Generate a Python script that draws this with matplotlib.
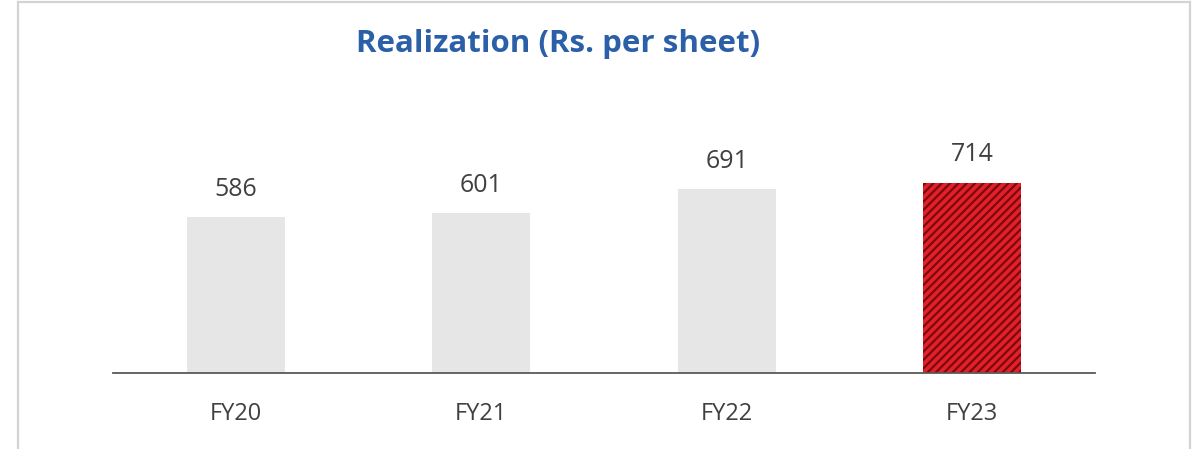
import matplotlib.pyplot as plt
from matplotlib.lines import Line2D

plt.rcParams['font.family'] = ['Open Sans', 'DejaVu Sans']
plt.rcParams['hatch.linewidth'] = 1.6
plt.rcParams['hatch.color'] = '#7a0a10'

years = ['FY20', 'FY21', 'FY22', 'FY23']
realization = [586, 601, 691, 714]

fig = plt.figure(figsize=(12.03, 4.49), dpi=100)
ax = fig.add_axes([0.0939, 0.1693, 0.8163, 0.5935])

x = range(len(years))
bars = ax.bar(x, realization, width=0.40, color='#e6e6e6')
bars[-1].set_facecolor('#e3202a')
bars[-1].set_hatch('////')
bars[-1].set_edgecolor('#7a0a10')
bars[-1].set_linewidth(0)

for b, v in zip(bars, realization):
    ax.annotate(str(v), (b.get_x() + b.get_width() / 2, v), xytext=(0, 11),
                textcoords='offset points', ha='center', va='bottom',
                fontsize=18, color='#404040')

ax.set_xlim(-0.5, 3.5)
ax.set_ylim(0, 1000)
ax.set_xticks(list(x))
ax.set_xticklabels(years, fontsize=17, color='#404040')
ax.tick_params(axis='x', length=0, pad=21)
ax.set_yticks([])
for s in ['top', 'right', 'left']:
    ax.spines[s].set_visible(False)
ax.spines['bottom'].set_color('#595959')
ax.spines['bottom'].set_linewidth(1.3)

fig.text(0.464, 0.902, 'Realization (Rs. per sheet)', ha='center', va='center',
         fontsize=22.5, fontweight='bold', color='#2b5fa8')

# light frame around the panel
fc = '#d4d4d4'
fig.add_artist(Line2D([18/1203, 18/1203], [0, 1 - 2/449], color=fc, lw=1.6))
fig.add_artist(Line2D([1190/1203, 1190/1203], [0, 1 - 2/449], color=fc, lw=1.6))
fig.add_artist(Line2D([18/1203, 1190/1203], [1 - 2/449, 1 - 2/449], color=fc, lw=1.6))

fig.savefig('out.png', dpi=100)
